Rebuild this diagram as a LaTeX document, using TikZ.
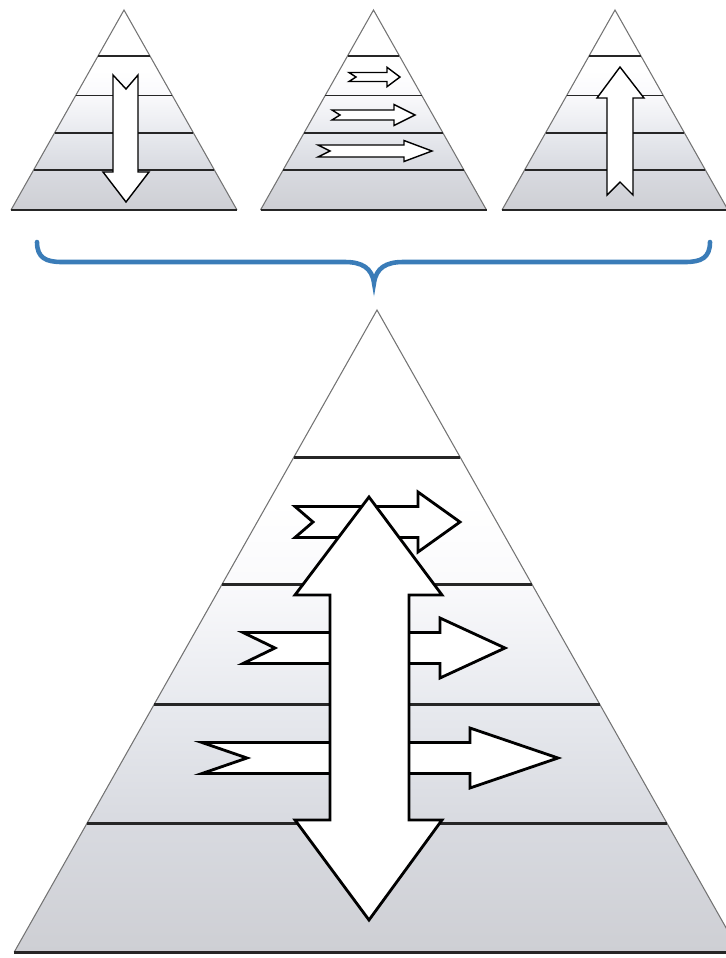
\documentclass[tikz,border=0pt]{standalone}
\usepackage{tikz}
\usetikzlibrary{calc}
\definecolor{braceblue}{RGB}{58,124,184}
\definecolor{pyrbot}{RGB}{206,207,212}
\definecolor{pyrfour}{RGB}{216,218,224}
\definecolor{pyrthree}{RGB}{231,233,238}
\definecolor{pyrtwo}{RGB}{250,250,252}
\pgfdeclareverticalshading{pyrshade}{100bp}{color(0bp)=(pyrbot); color(25bp)=(pyrbot);
  color(35bp)=(pyrfour); color(44bp)=(pyrthree); color(54bp)=(pyrtwo); color(60bp)=(white); color(100bp)=(white)}
\tikzset{band/.style={draw=black!85,line cap=butt},
  side/.style={draw=black!55,line width=0.6pt},
  hollow/.style={draw=black,fill=white,line join=miter},
  curly/.style={draw=braceblue,line width=2.6pt,line cap=round}}

\begin{document}
\begin{tikzpicture}[x=0.02cm,y=-0.02cm]
\useasboundingbox (0,0) rectangle (726,958);
\clip (0,0) rectangle (726,958);
% pyramids: centre x / apex y / height / line width
\foreach \cx/\ty/\h/\lw in {124/10/200/1pt, 373.5/10/200/1pt, 615/10/200/1pt, 377/310/642/1.7pt}{
  \shade[shading=pyrshade] (\cx,\ty) -- ({\cx+0.565*\h},{\ty+\h}) -- ({\cx-0.565*\h},{\ty+\h}) -- cycle;
  \draw[side] ({\cx-0.565*\h},{\ty+\h}) -- (\cx,\ty) -- ({\cx+0.565*\h},{\ty+\h});
  \foreach \f in {0.23,0.428,0.615,0.80}
    \draw[band,line width=\lw] ({\cx-0.565*\f*\h},{\ty+\f*\h}) -- ({\cx+0.565*\f*\h},{\ty+\f*\h});
  \draw[band,line width=\lw] ({\cx-0.565*\h},{\ty+\h}) -- ({\cx+0.565*\h},{\ty+\h});
}
% top down arrow
\draw[hollow,line width=0.8pt] (113,75) -- (126,89) -- (138,75) -- (138,172) -- (149,172) -- (126,202) -- (103,172) -- (113,172) -- cycle;
% top up arrow
\draw[hollow,line width=0.8pt] (620,67) -- (644,98) -- (633,98) -- (633,195) -- (620,182) -- (607,195) -- (607,98) -- (597,98) -- cycle;
% small sideways arrows
\foreach \tx/\nx/\cy/\sh/\hb/\hh/\tip in {349/356/77/4.5/387/9.7/400, 332/340/115/5/394/10.5/415, 318/330/151/6/404/10.5/432}
  \draw[hollow,line width=0.8pt] (\tx,\cy-\sh) -- (\hb,\cy-\sh) -- (\hb,\cy-\hh) -- (\tip,\cy) -- (\hb,\cy+\hh)
    -- (\hb,\cy+\sh) -- (\tx,\cy+\sh) -- (\nx,\cy) -- cycle;
% brace
\draw[curly] (37,242) .. controls (37,258) and (46,262) .. (62,262) -- (345,262)
  .. controls (362,262) and (372,268) .. (374,283) .. controls (376,268) and (386,262) .. (403,262)
  -- (685,262) .. controls (701,262) and (710,258) .. (710,242);
% big sideways arrows
\foreach \tx/\nx/\cy/\hb/\tip in {295/313/522/418/460, 243/275/648/440/505, 202/247/758/470/558}
  \draw[hollow,line width=1.6pt] (\tx,\cy-15.5) -- (\hb,\cy-15.5) -- (\hb,\cy-30) -- (\tip,\cy) -- (\hb,\cy+30)
    -- (\hb,\cy+15.5) -- (\tx,\cy+15.5) -- (\nx,\cy) -- cycle;
% big double arrow
\draw[hollow,line width=1.6pt] (369,497) -- (442,595) -- (409,595) -- (409,820) -- (442,820) -- (369,920)
  -- (295,820) -- (330,820) -- (330,595) -- (295,595) -- cycle;
\end{tikzpicture}
\end{document}
